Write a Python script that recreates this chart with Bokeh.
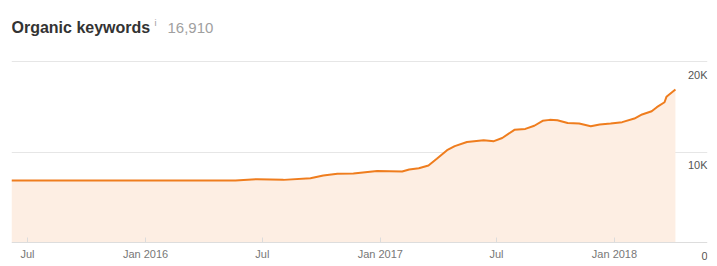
import pandas as pd
from bokeh.plotting import figure
from bokeh.models import (Range1d, FixedTicker, Grid, Label, LabelSet, ColumnDataSource)
from bokeh.core.properties import value
from bokeh.embed import file_html
from bokeh.resources import INLINE

# ---- data ----
dates = ["2015-06-06", "2015-10-01", "2016-01-01", "2016-04-01", "2016-05-20",
         "2016-06-23", "2016-08-03", "2016-09-14", "2016-10-04", "2016-10-26",
         "2016-11-20", "2016-12-27", "2017-02-04", "2017-02-15", "2017-03-02",
         "2017-03-17", "2017-03-30", "2017-04-15", "2017-04-27", "2017-05-16",
         "2017-06-11", "2017-06-27", "2017-07-10", "2017-07-29", "2017-08-15",
         "2017-08-29", "2017-09-11", "2017-09-22", "2017-10-04", "2017-10-20",
         "2017-11-07", "2017-11-25", "2017-12-09", "2017-12-26", "2018-01-13",
         "2018-02-01", "2018-02-13", "2018-02-28", "2018-03-08", "2018-03-20",
         "2018-03-23", "2018-04-06"]
keywords = [6850, 6850, 6850, 6840, 6860,
            7000, 6920, 7100, 7400, 7600,
            7620, 7900, 7850, 8070, 8200,
            8500, 9250, 10200, 10650, 11100,
            11300, 11200, 11550, 12450, 12550,
            12900, 13450, 13550, 13500, 13200,
            13150, 12850, 13050, 13150, 13300,
            13700, 14150, 14500, 14950, 15500,
            16100, 16910]
x_tick_dates = ["2015-07-01", "2016-01-01", "2016-07-01", "2017-01-01", "2017-07-01", "2018-01-01"]
x_tick_labels = ["Jul", "Jan 2016", "Jul", "Jan 2017", "Jul", "Jan 2018"]
y_ticks = [0, 10000, 20000]
y_tick_labels = ["0", "10K", "20K"]
title_text = "Organic keywords"
total_text = "16,910"
x_start, x_end = "2015-06-06", "2018-05-26"

# ---- build ----
x = pd.to_datetime(dates)
src = ColumnDataSource(dict(x=x, y=keywords))
xs = pd.Timestamp(x_start)
xe = pd.Timestamp(x_end)

# frame spans the whole canvas height (266 px); baseline (0) at 242 px,
# 20K sits 181 px above the baseline
px_per_unit = 181 / 20000
y_top = 242 / px_per_unit
y_bottom = -24 / px_per_unit

p = figure(width=717, height=266, x_axis_type="datetime", y_axis_location=None,
           x_range=Range1d(xs, xe), y_range=Range1d(y_bottom, y_top),
           output_backend="svg", toolbar_location=None,
           min_border_left=11, min_border_right=10, min_border_top=0, min_border_bottom=0)
p.outline_line_color = None
p.background_fill_color = "white"
p.border_fill_color = "white"
p.xgrid.visible = False
p.ygrid.visible = False

p.add_layout(Grid(dimension=1, ticker=FixedTicker(ticks=[10000, 20000]),
                  grid_line_color="#e6e6e6", grid_line_width=1))

p.varea(x="x", y1=0, y2="y", source=src, fill_color="#fdeee3")
p.line(x="x", y="y", source=src, line_color="#ef7d1e", line_width=2)

tick_ms = [int(pd.Timestamp(d).value // 10**6) for d in x_tick_dates]
ax = p.xaxis[0]
ax.fixed_location = 0
ax.ticker = FixedTicker(ticks=tick_ms)
ax.major_label_overrides = {t: l for t, l in zip(tick_ms, x_tick_labels)}
ax.axis_line_color = "#dddddd"
ax.major_tick_in = 5
ax.major_tick_out = 0
ax.major_tick_line_color = "#dcdcdc"
ax.minor_tick_line_color = None
ax.major_label_standoff = 5
ax.major_label_text_font = "Liberation Sans"
ax.major_label_text_font_size = "11px"
ax.major_label_text_color = "#777777"

ysrc = ColumnDataSource(dict(x=[xe] * 3, y=y_ticks, t=y_tick_labels))
p.add_layout(LabelSet(x="x", y="y", text="t", source=ysrc, text_align="right",
                      text_baseline="middle", y_offset=-13,
                      text_font=value("Liberation Sans"), text_font_size=value("11px"),
                      text_color=value("#555555")))

p.add_layout(Label(x=xs, y=20000, y_offset=34, text=title_text, text_baseline="middle",
                   text_font="Liberation Sans", text_font_style="bold",
                   text_font_size="16px", text_color="#333333"))
p.add_layout(Label(x=xs, y=20000, x_offset=143, y_offset=39, text="i", text_baseline="middle",
                   text_font="Liberation Sans", text_font_size="9px", text_color="#999999"))
p.add_layout(Label(x=xs, y=20000, x_offset=156, y_offset=34, text=total_text,
                   text_baseline="middle", text_font="Liberation Sans",
                   text_font_size="15px", text_color="#a0a0a0"))

open("out.html", "w").write(file_html(p, INLINE))
